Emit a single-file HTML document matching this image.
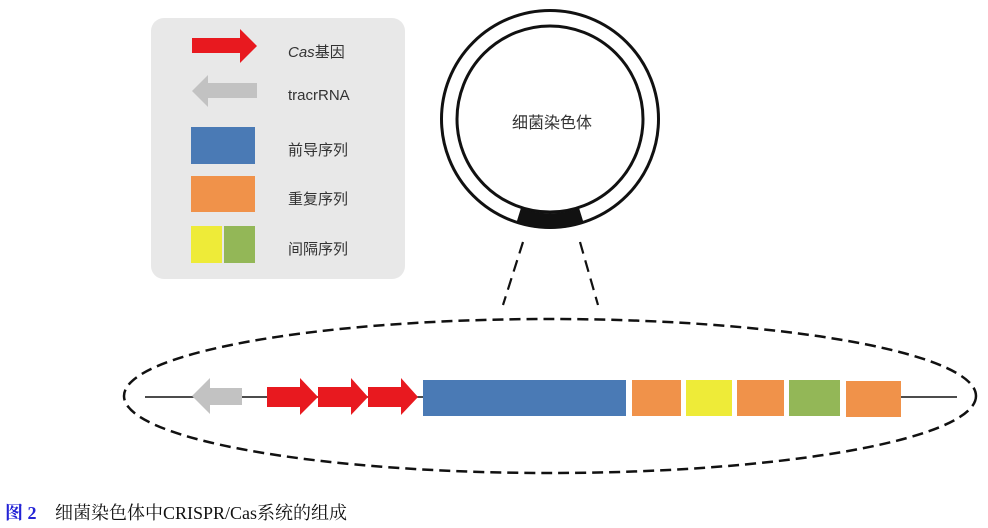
<!DOCTYPE html>
<html><head><meta charset="utf-8"><style>
html,body{margin:0;padding:0;background:#fff;}
svg{display:block;}
</style></head><body>
<svg width="988" height="528" viewBox="0 0 988 528" xmlns="http://www.w3.org/2000/svg">
<rect x="0" y="0" width="988" height="528" fill="#ffffff"/>
<!-- legend box -->
<rect x="151" y="18" width="254" height="261" rx="13" ry="13" fill="#e8e8e8"/>
<polygon points="192,38 240,38 240,29 257,46 240,63 240,53 192,53" fill="#e8191f"/>
<polygon points="257,83 208,83 208,75 192,91 208,107 208,98 257,98" fill="#c2c2c2"/>
<rect x="191" y="127" width="64" height="37" fill="#4a7ab5"/>
<rect x="191" y="176" width="64" height="36" fill="#f0924a"/>
<rect x="191" y="226" width="31" height="37" fill="#eeeb38"/>
<rect x="224" y="226" width="31" height="37" fill="#93b757"/>
<g font-family="'Liberation Sans','Noto Sans CJK SC',sans-serif" font-size="15" fill="#333">
<text x="288" y="57"><tspan font-style="italic">Cas</tspan>基因</text>
<text x="288" y="100">tracrRNA</text>
<text x="288" y="155">前导序列</text>
<text x="288" y="204">重复序列</text>
<text x="288" y="254">间隔序列</text>
</g>
<!-- chromosome -->
<circle cx="550" cy="119" r="108.5" fill="none" stroke="#111" stroke-width="3"/>
<circle cx="550" cy="119" r="93" fill="none" stroke="#111" stroke-width="3"/>
<path d="M 520.8 208.5 A 94 94 0 0 0 579.2 208.5 L 583.8 223.4 A 110 110 0 0 1 516.2 223.4 Z" fill="#111"/>
<text x="552" y="128" text-anchor="middle" font-family="'Liberation Sans','Noto Sans CJK SC',sans-serif" font-size="16" fill="#333">细菌染色体</text>
<line x1="523" y1="242" x2="503" y2="305" stroke="#111" stroke-width="2.2" stroke-dasharray="12 7"/>
<line x1="580" y1="242" x2="598" y2="305" stroke="#111" stroke-width="2.2" stroke-dasharray="12 7"/>
<!-- big ellipse -->
<ellipse cx="550" cy="396" rx="426" ry="77" fill="none" stroke="#111" stroke-width="2.5" stroke-dasharray="11 6"/>
<line x1="145" y1="397" x2="425" y2="397" stroke="#111" stroke-width="1.6"/>
<line x1="900" y1="397" x2="957" y2="397" stroke="#111" stroke-width="1.6"/>
<polygon points="242,388 210,388 210,378 192,396 210,414 210,405 242,405" fill="#c2c2c2"/>
<polygon points="267,387 300,387 300,378 318,397 300,415 300,407 267,407" fill="#e8191f"/>
<polygon points="318,387 351,387 351,378 368,397 351,415 351,407 318,407" fill="#e8191f"/>
<polygon points="368,387 401,387 401,378 418,397 401,415 401,407 368,407" fill="#e8191f"/>
<rect x="423" y="380" width="203" height="36" fill="#4a7ab5"/>
<rect x="632" y="380" width="49" height="36" fill="#f0924a"/>
<rect x="686" y="380" width="46" height="36" fill="#eeeb38"/>
<rect x="737" y="380" width="47" height="36" fill="#f0924a"/>
<rect x="789" y="380" width="51" height="36" fill="#93b757"/>
<rect x="846" y="381" width="55" height="36" fill="#f0924a"/>
<!-- caption -->
<g font-family="'Liberation Serif','Noto Serif CJK SC',serif" font-size="18">
<text x="5" y="519" fill="#2323d6" font-weight="bold">图 2</text>
<text x="55" y="519" fill="#111">细菌染色体中CRISPR/Cas系统的组成</text>
</g>
</svg>
</body></html>
